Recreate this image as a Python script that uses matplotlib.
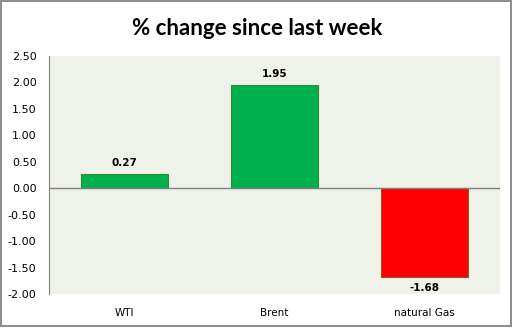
import matplotlib.pyplot as plt
import numpy as np
from matplotlib.patches import Rectangle

# data
categories = ["WTI", "Brent", "natural Gas"]
changes = [0.27, 1.95, -1.68]
y_ticks = [-2.0, -1.5, -1.0, -0.5, 0.0, 0.5, 1.0, 1.5, 2.0, 2.5]

fig = plt.figure(figsize=(5.14, 3.29), dpi=100)
ax = fig.add_axes([0.0953, 0.1064, 0.8775, 0.7234])

# figure border
fig.patches.append(Rectangle((0.002, 0.01), 0.993, 0.987, transform=fig.transFigure,
                             fill=False, edgecolor="#8c8c8c", linewidth=1.4))

x = np.arange(len(categories))
face = ["#00B050" if v >= 0 else "#FF0000" for v in changes]
edge = ["#2E8B3A" if v >= 0 else "#8B5A2B" for v in changes]
ax.bar(x, changes, width=0.58, color=face, edgecolor=edge, linewidth=0.8, zorder=3)

for xi, v in zip(x, changes):
    if v >= 0:
        ax.text(xi, v + 0.12, f"{v:.2f}", ha="center", va="bottom",
                fontsize=7.5, fontweight="bold")
    else:
        ax.text(xi, v - 0.12, f"{v:.2f}", ha="center", va="top",
                fontsize=7.5, fontweight="bold")

ax.axhline(0, color="#808080", linewidth=1.0, zorder=4)

ax.set_facecolor("#EFF2E8")
ax.set_xlim(-0.5, len(categories) - 0.5)
ax.set_ylim(-2.0, 2.5)
ax.set_yticks(y_ticks)
ax.set_yticklabels([f"{t:.2f}" for t in y_ticks], fontsize=8)
ax.set_xticks(x)
ax.set_xticklabels(categories, fontsize=7.5)
ax.tick_params(axis="x", length=0, pad=10)
ax.tick_params(axis="y", length=0, pad=9)

for s in ["top", "right", "bottom"]:
    ax.spines[s].set_visible(False)
ax.spines["left"].set_color("#808080")

fig.suptitle("% change since last week", y=0.945, fontsize=16, fontweight="bold",
             family="Lato")

fig.savefig("out.png", dpi=100)
